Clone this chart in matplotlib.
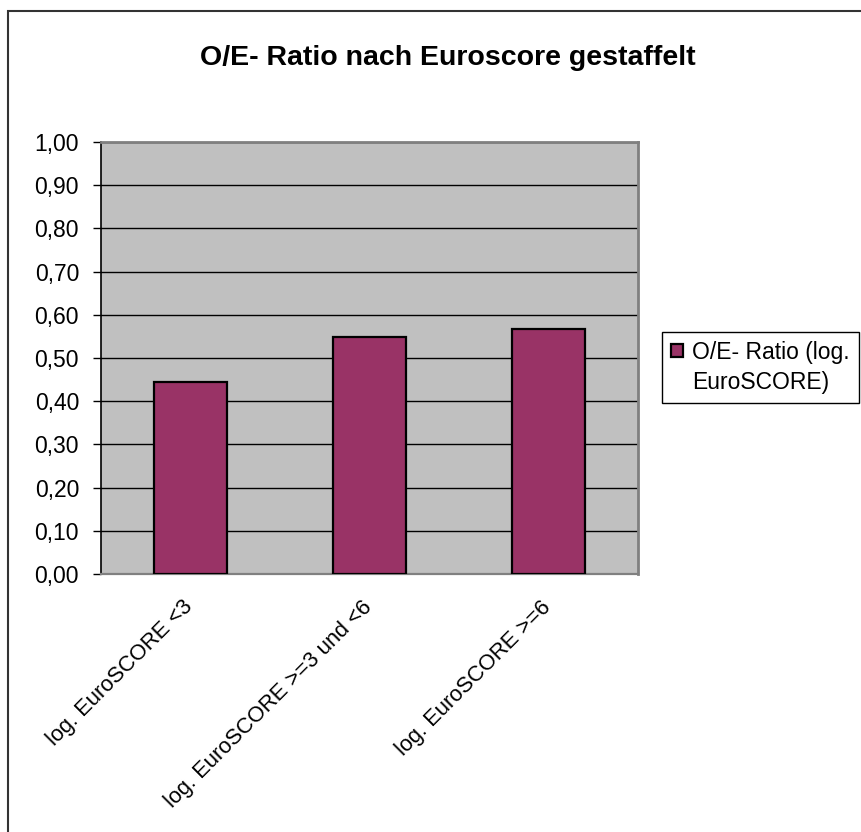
import matplotlib
matplotlib.use("Agg")
import matplotlib.pyplot as plt
import matplotlib.transforms as mtransforms
from matplotlib.patches import Rectangle
from matplotlib.legend_handler import HandlerPatch
from matplotlib.ticker import FixedLocator, FuncFormatter

plt.rcParams["font.family"] = ["Liberation Sans", "DejaVu Sans"]

# O/E ratio per log. EuroSCORE group
categories = ["log. EuroSCORE <3", "log. EuroSCORE >=3 und <6", "log. EuroSCORE >=6"]
oe_ratio = [0.445, 0.548, 0.566]
series_name = "O/E- Ratio (log.\nEuroSCORE)"
title = "O/E- Ratio nach Euroscore gestaffelt"
yticks = [0.0, 0.1, 0.2, 0.3, 0.4, 0.5, 0.6, 0.7, 0.8, 0.9, 1.0]

BAR = "#993366"
PLOT_BG = "#C0C0C0"
FRAME_GREY = "#808080"
FS = 16.5


def top_square(legend, orig_handle, xdescent, ydescent, width, height, fontsize):
    # legend key sits next to the first text line, not centred on both
    s = 0.55 * fontsize
    return Rectangle((-xdescent, -ydescent + height - s + 0.3 * fontsize), s, s)


fig = plt.figure(figsize=(8.61, 8.32), dpi=100)
ax = fig.add_axes([101 / 861, 1 - 574 / 832, (638 - 101) / 861, (574 - 142) / 832])
ax.set_facecolor(PLOT_BG)

x = list(range(len(categories)))
bars = ax.bar(x, oe_ratio, width=0.41, color=BAR, edgecolor="black",
              linewidth=1.6, label=series_name, zorder=3)

ax.set_xlim(-0.5, len(categories) - 0.5)
ax.set_ylim(0, 1.0)
ax.yaxis.set_major_locator(FixedLocator(yticks))
ax.yaxis.set_major_formatter(FuncFormatter(lambda v, _: f"{v:.2f}".replace(".", ",")))
ax.grid(axis="y", color="black", linewidth=1.0, zorder=1)
ax.set_axisbelow(True)

ax.tick_params(axis="y", direction="out", length=5.8, width=1.0, pad=10,
               labelsize=FS, colors="black")
ax.tick_params(axis="x", length=0, labelbottom=False)

for side in ("top", "right"):
    ax.spines[side].set_color(FRAME_GREY)
    ax.spines[side].set_linewidth(2.0)
ax.spines["bottom"].set_color(FRAME_GREY)
ax.spines["bottom"].set_linewidth(1.6)
ax.spines["left"].set_color("black")
ax.spines["left"].set_linewidth(1.2)

# rotated category labels hanging below the axis
lbl_tr = mtransforms.offset_copy(ax.get_xaxis_transform(), fig=fig, x=-0.5, y=-21.5, units="points")
for xi, cat in zip(x, categories):
    ax.text(xi, 0, cat, transform=lbl_tr, rotation=45, rotation_mode="anchor",
            ha="right", va="center", fontsize=15.8, color="black")

fig.text(448 / 861, 1 - 58 / 832, title, ha="center", va="center",
         fontsize=20.5, fontweight="bold", color="black")

leg = fig.legend(handles=[bars[0]], labels=[series_name], loc="upper left",
                 bbox_to_anchor=(662 / 861, 1 - 332 / 832), fontsize=FS,
                 frameon=True, fancybox=False, shadow=False, framealpha=1,
                 edgecolor="black", handlelength=0.55, handleheight=2.0,
                 handletextpad=0.4, borderpad=0.38, borderaxespad=0,
                 handler_map={bars[0]: HandlerPatch(patch_func=top_square)})
leg.get_frame().set_linewidth(1.0)
for t in leg.get_texts():
    t.set_linespacing(1.4)

# chart-area border, running off the right and bottom edges
fig.add_artist(Rectangle((8 / 861, -0.05), 1.0, 1 - 11 / 832 + 0.05,
                         transform=fig.transFigure, fill=False,
                         edgecolor="#333333", linewidth=1.5, clip_on=False))

fig.savefig("out.png", dpi=100)
